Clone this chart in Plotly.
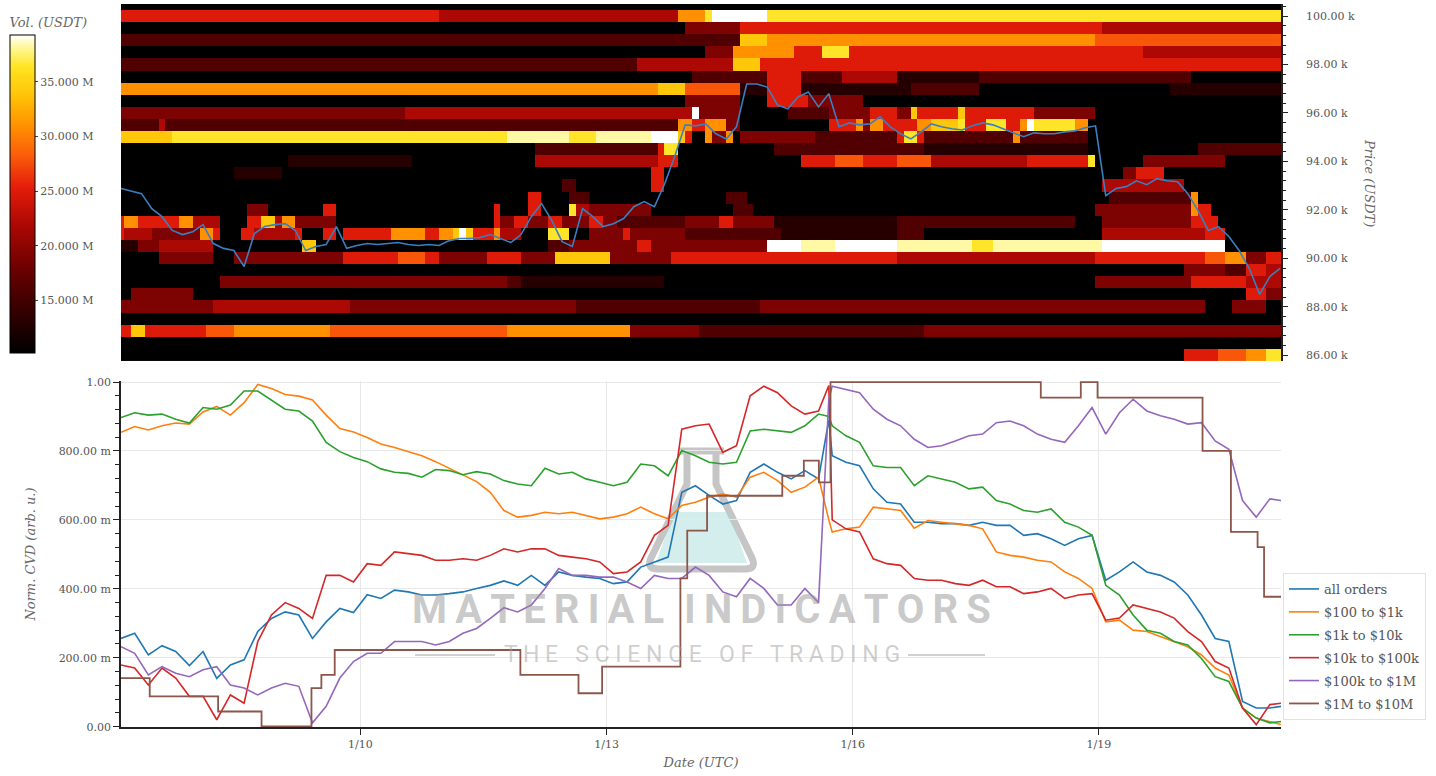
import pandas as pd
import plotly.graph_objects as go

# ------------------------------------------------------------------ data
# price (k USDT), 3-hour samples starting 2026-01-07 02:00 UTC
PRICE_START = "2026-01-07 02:00"
PRICE_K = [
    92.88, 92.79, 92.67, 92.05, 91.72, 91.15, 90.98, 91.10, 91.39, 90.61,
    90.41, 90.32, 89.66, 91.02, 91.31, 91.39, 91.43, 91.15, 90.32, 90.49,
    90.57, 91.31, 90.41, 90.53, 90.61, 90.57, 90.61, 90.65, 90.57, 90.53,
    90.57, 90.53, 90.73, 90.82, 90.82, 90.86, 90.98, 90.82, 90.65, 90.98,
    91.72, 92.26, 91.56, 90.69, 90.49, 92.05, 91.72, 91.31, 91.43, 91.64,
    92.13, 92.34, 92.13, 93.08, 94.23, 95.51, 95.47, 95.55, 95.14, 94.93,
    95.43, 97.20, 97.20, 97.07, 96.33, 96.17, 96.66, 96.87, 96.25, 96.79,
    95.43, 95.59, 95.51, 95.55, 95.84, 95.43, 95.14, 94.93, 95.22, 95.55,
    95.43, 95.35, 95.30, 95.47, 95.59, 95.51, 95.35, 95.18, 95.02, 95.18,
    95.14, 95.14, 95.22, 95.26, 95.39, 95.47, 92.59, 92.88, 92.96, 93.20,
    93.04, 93.29, 93.20, 93.16, 92.67, 91.97, 91.15, 91.31, 90.90, 90.32,
    89.58, 88.51, 89.25, 89.58,
]

# order-book heatmap: 2-hour bins (first bin centred 2026-01-07 02:00), 500 USDT rows
HEAT_START = "2026-01-07 02:00"
HEAT_N_BINS = 171
HEAT_PRICES = [86000, 86500, 87000, 87500, 88000, 88500, 89000, 89500, 90000, 90500,
               91000, 91500, 92000, 92500, 93000, 93500, 94000, 94500, 95000, 95500,
               96000, 96500, 97000, 97500, 98000, 98500, 99000, 99500, 100000, 100500]
# volume level per bin, run-length encoded "<level>x<count>"
HEAT_ROWS = [
    "0x156 5x5 6x4 7x3 9x3",
    "0x171",
    "5x2 8x2 5x9 6x4 7x14 6x26 7x18 3x10 2x33 3x53",
    "0x171",
    "3x14 4x20 3x33 2x27 3x65 0x4 3x5 0x3",
    "0x2 3x9 0x154 5x3 3x3",
    "0x15 3x42 2x2 1x21 0x63 3x14 5x8 4x6",
    "0x156 3x6 2x3 5x3 4x3",
    "0x6 3x8 0x3 3x16 5x8 6x4 5x2 3x7 5x5 3x5 8x8 3x9 5x33 4x29 5x16 6x3 7x3 3x3 5x3",
    "1x3 3x3 4x8 0x13 8x2 0x34 2x3 3x10 5x2 3x17 Wx5 Vx5 Wx9 Vx11 9x3 Vx16 Wx18 0x9",
    "5x1 4x4 3x7 7x2 5x1 0x3 5x2 4x6 5x1 0x3 5x2 0x1 5x7 7x5 5x2 7x2 8x1 Wx1 8x1 5x3 7x1 "
    "4x3 0x4 9x3 0x3 3x5 5x1 3x8 2x14 1x17 2x4 0x26 4x15 5x3 0x9",
    "5x1 7x2 5x6 7x2 4x4 0x4 5x2 8x2 4x1 7x2 3x6 0x23 5x1 3x2 5x2 3x3 5x2 3x4 5x2 3x2 "
    "2x10 3x5 5x2 3x6 1x18 2x26 0x4 3x13 5x4 0x10",
    "0x19 3x3 0x8 5x2 0x23 5x1 0x4 5x2 0x4 9x1 4x2 3x9 0x12 2x3 0x50 3x14 7x1 5x2 0x11",
    "0x60 5x2 0x4 2x3 0x20 2x3 0x53 2x12 7x1 0x13",
    "0x65 2x2 0x11 5x2 0x64 4x12 0x15",
    "0x17 1x7 0x54 5x2 0x67 3x2 5x4 0x18",
    "0x25 1x18 0x18 4x18 5x3 0x18 5x5 6x4 5x5 6x5 4x14 5x9 9x1 0x7 3x12 0x9",
    "0x61 2x18 5x1 9x2 0x14 2x22 1x24 0x16 2x13",
    "8x8 9x49 Vx9 9x4 Vx8 Wx4 8x1 5x1 0x2 7x1 3x2 7x1 0x1 3x11 2x12 5x1 9x2 5x1 2x13 7x1 2x10 0x29",
    "2x6 4x1 2x75 7x2 5x2 7x3 3x2 0x13 5x4 7x1 3x1 7x2 5x5 7x2 8x4 9x1 5x3 9x3 5x2 7x1 Wx1 9x6 7x2 0x29",
    "3x42 4x40 4x2 Wx1 3x6 0x7 2x6 3x6 5x4 3x2 8x1 5x6 8x1 5x10 3x9 0x28",
    "0x83 3x8 0x4 5x6 3x8 0x62",
    "7x79 8x4 6x8 1x4 5x5 1x16 2x10 0x28 1x17",
    "0x84 2x11 5x5 2x6 4x8 1x12 2x31 0x14",
    "2x76 4x14 8x4 5x77",
    "0x86 3x4 7x9 5x4 9x4 5x43 4x21",
    "2x91 8x4 7x48 6x28",
    "0x83 3x8 5x53 4x27",
    "5x47 4x35 7x4 9x1 Wx8 9x76",
    "0x171",
]
LEVEL_VOLUME = {"0": 9.0e6, "1": 13.0e6, "2": 16.0e6, "3": 19.0e6, "4": 22.0e6,
                "5": 25.0e6, "6": 28.0e6, "7": 31.0e6, "8": 34.0e6, "9": 36.5e6,
                "V": 38.3e6, "W": 40.0e6}
VOL_MIN, VOL_MAX = 10.2e6, 39.3e6
VOL_TICKS = [15e6, 20e6, 25e6, 30e6, 35e6]
VOL_TICKTEXT = ["15.000 M", "20.000 M", "25.000 M", "30.000 M", "35.000 M"]

# normalised CVD, 4-hour samples from 2026-01-07 02:00 plus two extra samples
CVD_START = "2026-01-07 02:00"
CVD_SPIKE_TIME = "2026-01-15 17:00"
CVD_END_TIME = "2026-01-21 05:15"
CVD_ALL = [
    0.256, 0.271, 0.208, 0.235, 0.218, 0.177, 0.218, 0.140, 0.179, 0.194,
    0.276, 0.314, 0.333, 0.324, 0.256, 0.304, 0.343, 0.331, 0.383, 0.372,
    0.396, 0.391, 0.382, 0.382, 0.386, 0.391, 0.401, 0.410, 0.423,
    0.410, 0.439, 0.410, 0.449, 0.439, 0.434, 0.430, 0.415, 0.420, 0.463,
    0.478, 0.492, 0.680, 0.699, 0.671, 0.646, 0.656, 0.738, 0.762, 0.738,
    0.719, 0.743, 0.719, 0.890,
    0.786, 0.767, 0.757, 0.690, 0.651,
    0.646, 0.593, 0.593, 0.589, 0.589, 0.584, 0.593, 0.584, 0.584, 0.555,
    0.560, 0.545, 0.526, 0.545, 0.555, 0.425, 0.449, 0.478, 0.449, 0.439,
    0.420, 0.382, 0.324, 0.256, 0.247, 0.073, 0.054, 0.054, 0.059,
]
CVD_100_1K = [
    0.854, 0.871, 0.861, 0.873, 0.881, 0.878, 0.913, 0.929, 0.904, 0.940,
    0.993, 0.981, 0.964, 0.959, 0.948, 0.904, 0.865, 0.855, 0.839, 0.820,
    0.810, 0.797, 0.786, 0.769, 0.750, 0.730, 0.711, 0.680, 0.627,
    0.608, 0.613, 0.622, 0.618, 0.622, 0.613, 0.603, 0.608, 0.618, 0.637,
    0.618, 0.603, 0.642, 0.651, 0.666, 0.675, 0.666, 0.724, 0.738, 0.714,
    0.680, 0.695, 0.724, 0.600,
    0.565, 0.574, 0.579, 0.637, 0.632,
    0.627, 0.576, 0.598, 0.593, 0.589, 0.584, 0.574, 0.507, 0.497, 0.492,
    0.483, 0.478, 0.449, 0.430, 0.401, 0.304, 0.309, 0.280, 0.276, 0.261,
    0.247, 0.232, 0.208, 0.170, 0.150, 0.054, 0.025, 0.015, 0.006,
]
CVD_1K_10K = [
    0.897, 0.911, 0.904, 0.907, 0.892, 0.881, 0.926, 0.921, 0.933, 0.974,
    0.974, 0.948, 0.921, 0.916, 0.887, 0.825, 0.798, 0.781, 0.769, 0.748,
    0.738, 0.735, 0.724, 0.746, 0.743, 0.731, 0.740, 0.733, 0.714,
    0.704, 0.699, 0.750, 0.733, 0.738, 0.719, 0.709, 0.699, 0.709, 0.762,
    0.757, 0.728, 0.801, 0.786, 0.767, 0.762, 0.767, 0.858, 0.863, 0.858,
    0.854, 0.873, 0.907, 0.900,
    0.873, 0.844, 0.825, 0.757, 0.752,
    0.752, 0.699, 0.728, 0.719, 0.709, 0.690, 0.695, 0.656, 0.646, 0.627,
    0.622, 0.632, 0.593, 0.579, 0.555, 0.410, 0.382, 0.324, 0.280, 0.271,
    0.247, 0.237, 0.198, 0.145, 0.131, 0.054, 0.025, 0.011, 0.015,
]
CVD_10K_100K = [
    0.179, 0.170, 0.121, 0.170, 0.141, 0.088, 0.088, 0.020, 0.092, 0.068,
    0.247, 0.324, 0.360, 0.343, 0.314, 0.439, 0.439, 0.420, 0.473, 0.468,
    0.507, 0.502, 0.497, 0.483, 0.483, 0.487, 0.483, 0.497, 0.516,
    0.507, 0.516, 0.516, 0.497, 0.492, 0.487, 0.478, 0.444, 0.449, 0.478,
    0.555, 0.584, 0.863, 0.873, 0.878, 0.796, 0.815, 0.960, 0.988, 0.969,
    0.931, 0.907, 0.916, 0.990,
    0.600, 0.574, 0.565, 0.487, 0.473,
    0.468, 0.430, 0.425, 0.425, 0.415, 0.410, 0.425, 0.406, 0.406, 0.386,
    0.391, 0.401, 0.372, 0.382, 0.386, 0.309, 0.315, 0.353, 0.343, 0.333,
    0.315, 0.276, 0.247, 0.189, 0.170, 0.054, 0.006, 0.064, 0.068,
]
CVD_100K_1M = [
    0.232, 0.213, 0.150, 0.174, 0.155, 0.145, 0.165, 0.174, 0.121, 0.112,
    0.092, 0.112, 0.126, 0.117, 0.011, 0.059, 0.141, 0.189, 0.213, 0.213,
    0.247, 0.247, 0.247, 0.237, 0.247, 0.271, 0.285, 0.314, 0.345,
    0.333, 0.353, 0.401, 0.459, 0.439, 0.439, 0.434, 0.434, 0.420, 0.401,
    0.439, 0.430, 0.430, 0.463, 0.439, 0.391, 0.377, 0.430, 0.401, 0.353,
    0.353, 0.401, 0.360, 0.950,
    0.988, 0.979, 0.969, 0.921, 0.892,
    0.873, 0.834, 0.810, 0.815, 0.829, 0.844, 0.849, 0.882, 0.887, 0.873,
    0.849, 0.834, 0.825, 0.873, 0.926, 0.849, 0.911, 0.950, 0.916, 0.902,
    0.892, 0.878, 0.882, 0.829, 0.805, 0.656, 0.608, 0.661, 0.656,
]
# $1M to $10M moves in steps: value holds until the next change time
CVD_1M_10M_TIMES = [
    "2026-01-07 02:00", "2026-01-07 10:24", "2026-01-08 06:24", "2026-01-08 19:06",
    "2026-01-09 09:42", "2026-01-09 12:36", "2026-01-09 16:30", "2026-01-11 22:48",
    "2026-01-12 15:48", "2026-01-12 22:42", "2026-01-13 21:36", "2026-01-13 23:36",
    "2026-01-14 05:24", "2026-01-15 03:24", "2026-01-15 09:42", "2026-01-15 14:06",
    "2026-01-15 17:30", "2026-01-18 07:00", "2026-01-18 18:42", "2026-01-18 23:36",
    "2026-01-20 06:18", "2026-01-20 14:36", "2026-01-20 22:24", "2026-01-21 00:18",
    "2026-01-21 05:15",
]
CVD_1M_10M = [0.141, 0.088, 0.044, 0.001, 0.112, 0.150, 0.2225, 0.150, 0.097, 0.174,
              0.430, 0.569, 0.670, 0.728, 0.772, 0.709, 1.0, 0.955, 1.0, 0.955,
              0.800, 0.565, 0.521, 0.377, 0.377]

SERIES_NAMES = ["all orders", "$100 to $1k", "$1k to $10k", "$10k to $100k",
                "$100k to $1M", "$1M to $10M"]
SERIES_COLORS = ["#1f77b4", "#ff7f0e", "#2ca02c", "#d62728", "#9467bd", "#8c564b"]

X_RANGE = ["2026-01-07 02:00", "2026-01-21 05:15"]
DATE_TICKS = ["2026-01-10", "2026-01-13", "2026-01-16", "2026-01-19"]
DATE_TICKTEXT = ["1/10", "1/13", "1/16", "1/19"]
PRICE_TICKS = [86000, 88000, 90000, 92000, 94000, 96000, 98000, 100000]
PRICE_TICKTEXT = ["86.00 k", "88.00 k", "90.00 k", "92.00 k", "94.00 k", "96.00 k",
                  "98.00 k", "100.00 k"]
CVD_TICKS = [0, 0.2, 0.4, 0.6, 0.8, 1.0]
CVD_TICKTEXT = ["0.00", "200.00 m", "400.00 m", "600.00 m", "800.00 m", "1.00"]

# ------------------------------------------------------------------ build
W, H = 1436, 776
L, R, T, B = 121, 155, 4, 49
PW, PH = W - L - R, H - T - B


def px_x(p):
    return (p - L) / PW


def px_y(p):
    return (H - B - p) / PH


def expand(row):
    out = []
    for tok in row.split():
        lvl, n = tok.split("x")
        out += [LEVEL_VOLUME[lvl]] * int(n)
    return out


heat_z = [expand(r) for r in HEAT_ROWS]
heat_x = pd.date_range(HEAT_START, periods=HEAT_N_BINS, freq="2h")
price_x = pd.date_range(PRICE_START, periods=len(PRICE_K), freq="3h")
price_y = [p * 1000 for p in PRICE_K]

grid = list(pd.date_range(CVD_START, periods=85, freq="4h"))
cvd_x = grid[:52] + [pd.Timestamp(CVD_SPIKE_TIME)] + grid[52:] + [pd.Timestamp(CVD_END_TIME)]

colorscale = [
    [0.00, "rgb(0,0,0)"], [0.10, "rgb(40,0,0)"], [0.25, "rgb(100,0,0)"],
    [0.40, "rgb(170,8,4)"], [0.52, "rgb(228,28,10)"], [0.62, "rgb(250,92,10)"],
    [0.72, "rgb(255,148,0)"], [0.82, "rgb(255,200,10)"], [0.90, "rgb(255,228,35)"],
    [0.96, "rgb(255,248,150)"], [1.00, "rgb(255,255,255)"],
]

FONT = "DejaVu Serif"
TICKFONT = dict(family=FONT, size=11, color="#555555")
TITLEFONT = dict(family=FONT, size=13, color="#666666", style="italic")

fig = go.Figure()
fig.add_trace(go.Heatmap(
    x=heat_x, y=HEAT_PRICES, z=heat_z, xaxis="x2", yaxis="y2",
    zmin=VOL_MIN, zmax=VOL_MAX, colorscale=colorscale, zsmooth=False,
    hoverinfo="skip", showlegend=False,
    colorbar=dict(
        x=px_x(10), xanchor="left", y=px_y(15), yanchor="top",
        lenmode="pixels", len=338, thickness=25, outlinewidth=1, outlinecolor="black",
        tickvals=VOL_TICKS, ticktext=VOL_TICKTEXT, ticks="outside", ticklen=3,
        tickfont=TICKFONT, xpad=0, ypad=0,
        title=dict(text="Vol. (USDT)", side="top", font=TITLEFONT),
    ),
))
fig.add_trace(go.Scatter(
    x=price_x, y=price_y, xaxis="x2", yaxis="y2", mode="lines",
    line=dict(color="#3a7fc0", width=1.6), showlegend=False, hoverinfo="skip",
))

all_series = [CVD_ALL, CVD_100_1K, CVD_1K_10K, CVD_10K_100K, CVD_100K_1M]
for name, color, vals in zip(SERIES_NAMES[:5], SERIES_COLORS[:5], all_series):
    fig.add_trace(go.Scatter(x=cvd_x, y=vals, mode="lines", name=name, legendgroup=name,
                             line=dict(color=color, width=1.6)))
fig.add_trace(go.Scatter(x=pd.to_datetime(CVD_1M_10M_TIMES), y=CVD_1M_10M, mode="lines",
                         name=SERIES_NAMES[5], legendgroup=SERIES_NAMES[5],
                         line=dict(color=SERIES_COLORS[5], width=1.8, shape="hv")))

# watermark
fig.add_shape(type="path", xref="paper", yref="paper", layer="below",
              path=(f"M {px_x(679)},{px_y(451)} L {px_x(724)},{px_y(451)} "
                    f"M {px_x(687)},{px_y(454)} L {px_x(687)},{px_y(484)} L {px_x(651)},{px_y(558)} "
                    f"Q {px_x(646)},{px_y(569)} {px_x(658)},{px_y(569)} L {px_x(745)},{px_y(569)} "
                    f"Q {px_x(757)},{px_y(569)} {px_x(752)},{px_y(558)} L {px_x(716)},{px_y(484)} "
                    f"L {px_x(716)},{px_y(454)}"),
              line=dict(color="rgba(150,150,150,0.55)", width=7))
fig.add_shape(type="path", xref="paper", yref="paper", layer="below",
              path=(f"M {px_x(674)},{px_y(512)} L {px_x(729)},{px_y(512)} L {px_x(747)},{px_y(563)} "
                    f"L {px_x(656)},{px_y(563)} Z"),
              fillcolor="rgba(160,215,215,0.45)", line=dict(width=0))
TS = "\u2009"
fig.add_annotation(x=px_x(701), y=px_y(609), xref="paper", yref="paper", showarrow=False,
                   xanchor="center", yanchor="middle",
                   text="<b>" + TS.join("MATERIAL") + "  " + TS.join("INDICATORS") + "</b>",
                   font=dict(family="Roboto", size=40, color="rgba(150,150,150,0.5)"))
fig.add_annotation(x=px_x(702), y=px_y(654), xref="paper", yref="paper", showarrow=False,
                   xanchor="center", yanchor="middle",
                   text="T H E   S C I E N C E   O F   T R A D I N G",
                   font=dict(family="Roboto", size=23, color="rgba(160,160,160,0.5)"))
for xa, xb in [(415, 495), (908, 985)]:
    fig.add_shape(type="line", xref="paper", yref="paper", x0=px_x(xa), x1=px_x(xb),
                  y0=px_y(655), y1=px_y(655), line=dict(color="rgba(170,170,170,0.55)", width=2))

fig.add_annotation(x=px_x(1370), y=px_y(183), xref="paper", yref="paper", showarrow=False,
                   xanchor="center", yanchor="middle",
                   text="Price (USDT)", textangle=90, font=TITLEFONT)

fig.update_layout(
    width=W, height=H, margin=dict(l=L, r=R, t=T, b=B, autoexpand=False),
    paper_bgcolor="white", plot_bgcolor="white",
    font=dict(family=FONT, color="#555555"),
    xaxis=dict(domain=[0, 1], anchor="y", type="date", range=X_RANGE,
               tickvals=DATE_TICKS, ticktext=DATE_TICKTEXT, tickfont=TICKFONT,
               showgrid=True, gridcolor="#e8e8e8", showline=True, linecolor="#222222",
               linewidth=1.5, ticks="outside", ticklen=6, tickcolor="#222222", zeroline=False,
               title=dict(text="Date (UTC)", font=TITLEFONT, standoff=8)),
    yaxis=dict(domain=[0, px_y(381)], anchor="x", range=[-0.001, 1.003],
               tickvals=CVD_TICKS, ticktext=CVD_TICKTEXT, tickfont=TICKFONT,
               showgrid=True, gridcolor="#e8e8e8", showline=True, linecolor="#222222",
               linewidth=1.5, ticks="outside", ticklen=6, tickcolor="#222222", zeroline=False,
               minor=dict(tickmode="linear", tick0=0, dtick=0.04, ticks="outside",
                          ticklen=4, tickcolor="#222222", showgrid=False),
               title=dict(text="Norm. CVD (arb. u.)", font=TITLEFONT, standoff=20)),
    xaxis2=dict(domain=[0, 1], anchor="y2", type="date", matches="x",
                showticklabels=False, showgrid=False, showline=False, ticks="", zeroline=False),
    yaxis2=dict(domain=[px_y(361), 1], anchor="x2", side="right", range=[85760, 100500],
                tickvals=PRICE_TICKS, ticktext=PRICE_TICKTEXT, tickfont=TICKFONT,
                showgrid=False, showline=True, linecolor="#222222", linewidth=1.5,
                ticks="outside", ticklen=5, tickcolor="#222222", zeroline=False,
                ticklabelstandoff=16,
                minor=dict(tickmode="linear", tick0=86000, dtick=400, ticks="outside",
                           ticklen=3, tickcolor="#222222", showgrid=False)),
    legend=dict(x=px_x(1283), xanchor="left", y=px_y(573), yanchor="top",
                bgcolor="white", bordercolor="#e2e2e2", borderwidth=1,
                font=dict(family=FONT, size=13, color="#555555"), tracegroupgap=3),
)

fig.write_html("out.html", config={"displayModeBar": False},
               post_script="document.body.style.margin='0';")
